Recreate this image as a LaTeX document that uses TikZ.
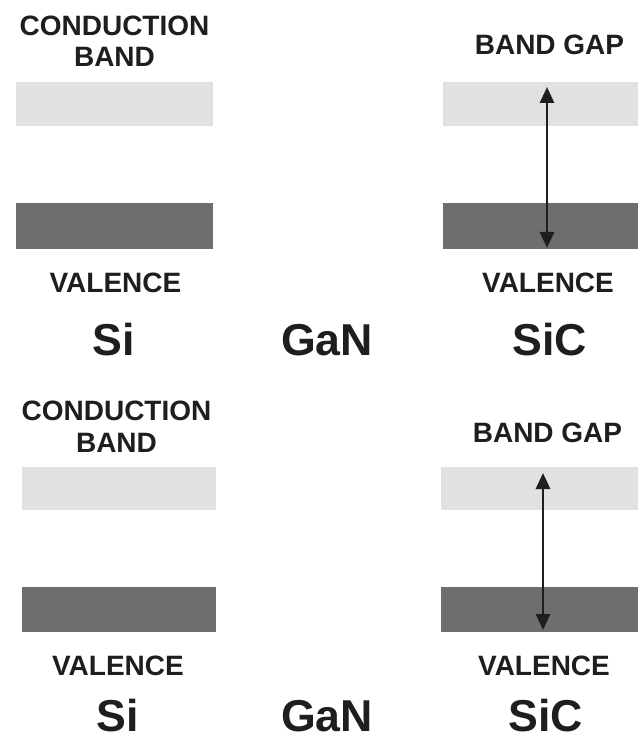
\documentclass[tikz,border=0pt]{standalone}
\usepackage{fontspec}
\setmainfont{Liberation Sans}
\usetikzlibrary{arrows.meta}
\definecolor{bandlight}{HTML}{E1E1E1}
\definecolor{banddark}{HTML}{6E6E6E}
\definecolor{inkc}{HTML}{1E1E1E}
\begin{document}
\begin{tikzpicture}[x=0.75pt,y=-0.75pt,
  lbl/.style={font=\bfseries\fontsize{21}{23.3}\selectfont, text=inkc, inner sep=0pt, anchor=base, align=center},
  mat/.style={font=\bfseries\fontsize{33.5}{36}\selectfont, text=inkc, inner sep=0pt, anchor=base},
  lightband/.style={fill=bandlight, draw=none},
  darkband/.style={fill=banddark, draw=none},
  gaparrow/.style={draw=inkc, line width=2.1pt, {Triangle[length=12pt,width=10.5pt]}-{Triangle[length=12pt,width=10.5pt]}}
]
\useasboundingbox (0,0) rectangle (638,737);
% ---------- top half ----------
\fill[lightband] (16,82) rectangle (213,126);
\fill[darkband] (16,203) rectangle (213,249);
\fill[lightband] (443,82) rectangle (638,126);
\fill[darkband] (443,203) rectangle (638,249);
\node[lbl] (cb1) at (114.5,67) {CONDUCTION\\BAND};
\node[lbl] (v1l) at (115.5,293) {VALENCE};
\node[lbl] (bg1) at (549.5,55) {BAND GAP};
\node[lbl] (v1r) at (548,293) {VALENCE};
\node[mat] (si1) at (114,355) {Si};
\node[mat] (gan1) at (327,355) {GaN};
\node[mat] (sic1) at (549.5,355) {SiC};
\coordinate (a1t) at (547,87);
\coordinate (a1b) at (547,248);
\draw[gaparrow] (a1b) -- (a1t);
% ---------- bottom half ----------
\fill[lightband] (22,467) rectangle (216,510);
\fill[darkband] (22,587) rectangle (216,632);
\fill[lightband] (441,467) rectangle (638,510);
\fill[darkband] (441,587) rectangle (638,632);
\node[lbl] (cb2) at (116.5,452) {CONDUCTION\\BAND};
\node[lbl] (v2l) at (118,675) {VALENCE};
\node[lbl] (bg2) at (547.5,442) {BAND GAP};
\node[lbl] (v2r) at (544,675) {VALENCE};
\node[mat] (si2) at (117.5,731) {Si};
\node[mat] (gan2) at (327,731) {GaN};
\node[mat] (sic2) at (546,731) {SiC};
\coordinate (a2t) at (543,473);
\coordinate (a2b) at (543,630);
\draw[gaparrow] (a2b) -- (a2t);
\end{tikzpicture}
\end{document}
